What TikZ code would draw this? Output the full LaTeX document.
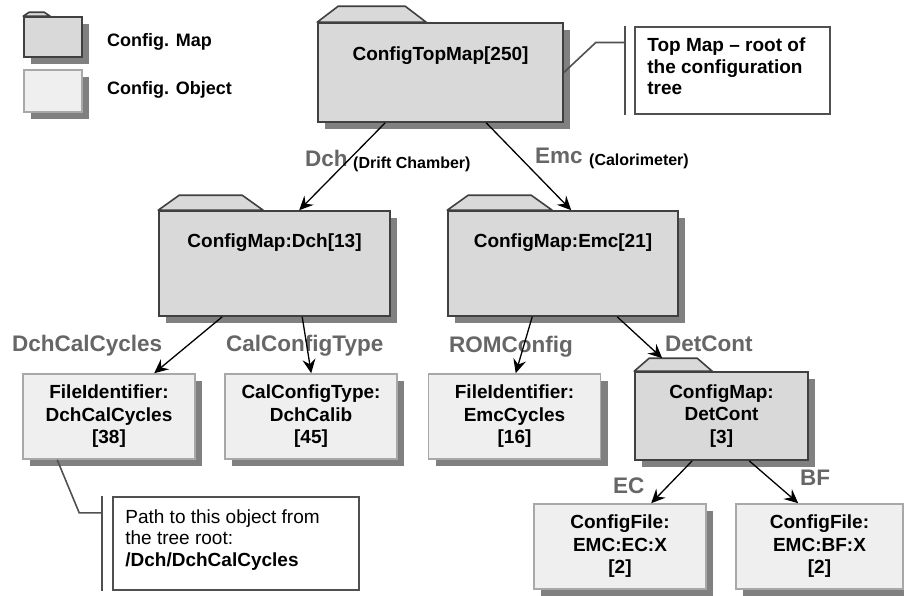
\documentclass[tikz,border=0pt]{standalone}
\usepackage{fontspec}
\setmainfont{Liberation Sans}
\usetikzlibrary{arrows.meta,shadows}
\definecolor{MapFill}{HTML}{D9D9D9}
\definecolor{MapRule}{HTML}{404040}
\definecolor{ObjFill}{HTML}{EFEFEF}
\definecolor{ObjRule}{HTML}{A8A8A8}
\definecolor{Shade}{HTML}{808080}
\definecolor{LabelGray}{HTML}{666666}
\definecolor{NoteRule}{HTML}{505050}
\newcommand{\maptab}[4]{\filldraw[tab] (#1.north west) -- ++(#2pt,#4pt) -- ++(#3pt,0pt) -- ++(#2pt,-#4pt) -- cycle;}

\begin{document}
\begin{tikzpicture}[x=1pt, y=-1pt,
  map/.style={draw=MapRule, fill=MapFill, line width=1.6pt, inner sep=0pt,
              drop shadow={shadow xshift=7pt, shadow yshift=-7pt, fill=Shade, opacity=1}},
  tab/.style={draw=MapRule, fill=MapFill, line width=1.6pt, line join=round},
  obj/.style={draw=ObjRule, fill=ObjFill, line width=1.6pt, inner sep=0pt, align=center,
              minimum width=172pt, minimum height=85pt,
              font=\fontsize{19}{22.5}\selectfont\bfseries,
              drop shadow={shadow xshift=7pt, shadow yshift=-7pt, fill=Shade, opacity=1}},
  maptext/.style={inner sep=0pt, align=center, font=\fontsize{19}{22.5}\selectfont\bfseries},
  lbl/.style={anchor=base west, inner sep=0pt, text=LabelGray, font=\fontsize{22.5}{25}\selectfont\bfseries},
  sublbl/.style={anchor=base west, inner sep=0pt, font=\fontsize{16}{18}\selectfont\bfseries},
  legtext/.style={anchor=west, inner sep=0pt, font=\fontsize{18}{20}\selectfont\bfseries},
  note/.style={draw=NoteRule, fill=white, line width=1.6pt, inner sep=0pt},
  notetext/.style={anchor=north west, inner sep=0pt, align=left, font=\fontsize{19}{21.5}\selectfont},
  noterule/.style={draw=NoteRule, line width=1.6pt},
  arr/.style={-{Stealth[length=14pt, width=13pt, inset=5pt]}, line width=1.3pt, draw=black}]
  \useasboundingbox (0,0) rectangle (904,595);

  \node[map, minimum width=58pt, minimum height=40pt] (legmap) at (53,37) {};
  \maptab{legmap}{6}{15}{4}
  \node[obj, minimum width=58pt, minimum height=42pt] (legobj) at (53,91) {};
  \node[legtext] (legmaptext) at (107,42) {Config. Map};
  \node[legtext] (legobjtext) at (107,90) {Config. Object};

  \node[map, minimum width=245pt, minimum height=99pt] (topmap) at (440.5,72.5) {};
  \maptab{topmap}{21}{67}{16}
  \node[maptext] (topmaptext) at ([yshift=-33pt]topmap.north) {ConfigTopMap[250]};

  \node[map, minimum width=231pt, minimum height=105pt] (dchmap) at (274.5,263.5) {};
  \maptab{dchmap}{21}{63}{15}
  \node[maptext] (dchmaptext) at ([yshift=-32pt]dchmap.north) {ConfigMap:Dch[13]};

  \node[map, minimum width=230pt, minimum height=105pt] (emcmap) at (563,263.5) {};
  \maptab{emcmap}{21}{63}{15}
  \node[maptext] (emcmaptext) at ([yshift=-32pt]emcmap.north) {ConfigMap:Emc[21]};

  \node[obj] (dchcal) at (109,416.5) {FileIdentifier:\\DchCalCycles\\{}[38]};
  \node[obj] (calcfg) at (311,416.5) {CalConfigType:\\DchCalib\\{}[45]};
  \node[obj] (emccyc) at (514.5,416.5) {FileIdentifier:\\EmcCycles\\{}[16]};
  \node[map, align=center, minimum width=173pt, minimum height=88pt,
        font=\fontsize{19}{22.5}\selectfont\bfseries] (detcont) at (721.5,416) {ConfigMap:\\DetCont\\{}[3]};
  \maptab{detcont}{15}{48}{13}
  \node[obj] (ecfile) at (620,546.5) {ConfigFile:\\EMC:EC:X\\{}[2]};
  \node[obj, minimum width=167pt] (bffile) at (819.5,546.5) {ConfigFile:\\EMC:BF:X\\{}[2]};

  \node[lbl] (dchlbl) at (305,166) {Dch};
  \node[sublbl] (dchsub) at (353,168) {(Drift Chamber)};
  \node[lbl] (emclbl) at (535,163) {Emc};
  \node[sublbl] (emcsub) at (589,165) {(Calorimeter)};
  \node[lbl] (dchcallbl) at (12,351) {DchCalCycles};
  \node[lbl] (calcfglbl) at (226,351) {CalConfigType};
  \node[lbl] (romlbl) at (449,352) {ROMConfig};
  \node[lbl] (detlbl) at (665,351) {DetCont};
  \node[lbl] (eclbl) at (613,493) {EC};
  \node[lbl] (bflbl) at (800,485) {BF};

  \draw[arr] ([xshift=68pt]topmap.south west) -- ([xshift=141pt]dchmap.north west);
  \draw[arr] ([xshift=169pt]topmap.south west) -- ([xshift=124pt]emcmap.north west);
  \draw[arr] ([xshift=64pt]dchmap.south west) -- ([xshift=132pt]dchcal.north west);
  \draw[arr] ([xshift=144pt]dchmap.south west) -- ([xshift=87pt]calcfg.north west);
  \draw[arr] ([xshift=85pt]emcmap.south west) -- ([xshift=88pt]emccyc.north west);
  \draw[arr] ([xshift=170pt]emcmap.south west) -- ([xshift=28pt,yshift=13pt]detcont.north west);
  \draw[arr] ([xshift=58pt]detcont.south west) -- ([xshift=118pt]ecfile.north west);
  \draw[arr] ([xshift=115pt]detcont.south west) -- ([xshift=63pt]bffile.north west);

  \node[note, minimum width=195pt, minimum height=87pt] (topnote) at (732.5,70.5) {};
  \node[notetext, font=\fontsize{19}{21.5}\selectfont\bfseries] (topnotetext)
    at ([xshift=13pt,yshift=-11.5pt]topnote.north west) {Top Map -- root of\\the configuration\\tree};
  \coordinate (topbar) at ([xshift=-9pt]topnote.west);
  \draw[noterule] ([xshift=-9pt]topnote.north west) -- ([xshift=-9pt]topnote.south west);
  \draw[noterule] (topmap.east) -- ++(32pt,30pt) coordinate (topbend) -- (topbend -| topbar);

  \node[note, minimum width=246pt, minimum height=93pt] (pathnote) at (236,543.5) {};
  \node[notetext] (pathnotetext) at ([xshift=13pt,yshift=-13pt]pathnote.north west)
    {Path to this object from\\the tree root:\\\textbf{/Dch/DchCalCycles}};
  \coordinate (pathbar) at ([xshift=-10pt]pathnote.west);
  \draw[noterule] ([xshift=-10pt]pathnote.north west) -- ([xshift=-10pt]pathnote.south west);
  \draw[noterule] ([xshift=35pt]dchcal.south west) -- ++(22pt,-53pt) coordinate (pathbend) -- (pathbend -| pathbar);
\end{tikzpicture}
\end{document}
